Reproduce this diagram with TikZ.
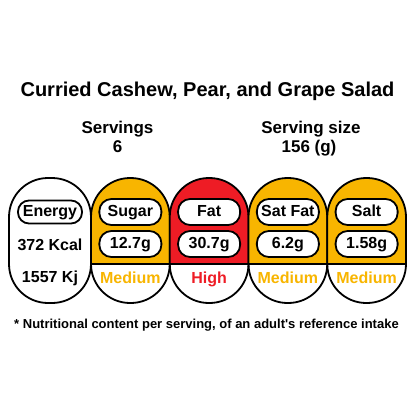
\documentclass[tikz,border=0pt]{standalone}
\usepackage{fontspec}
\setmainfont{Liberation Sans}
\usepackage{tikz}
\usetikzlibrary{positioning}
\definecolor{amber}{HTML}{F8B500}
\definecolor{highred}{HTML}{EE1C25}
\newcommand{\capfont}{\fontsize{16}{19}\selectfont\bfseries}
\newcommand{\headfont}{\fontsize{17}{20}\selectfont\bfseries}
\tikzset{%
	capsule/.style = {draw, line width=1.8pt, rounded corners=39pt, minimum width=78.75pt, minimum height=125pt, inner sep=0pt},
	filled/.style  = {capsule, path picture={
			\fill[#1, sharp corners] (path picture bounding box.north west) rectangle ([yshift=39pt]path picture bounding box.south east);
			\draw[line width=1.8pt, sharp corners] ([yshift=39pt]path picture bounding box.south west) -- ([yshift=39pt]path picture bounding box.south east);}},
	pill/.style    = {draw, fill=white, line width=1.8pt, rounded corners=12pt, minimum width=62pt, minimum height=26pt, inner sep=0pt, font=\capfont, text height=11.5pt, text depth=3.4pt},
	txt/.style     = {font=\capfont, anchor=base},
	head/.style    = {font=\headfont, anchor=base},
}

\begin{document}
\begin{tikzpicture}[x=1pt,y=-1pt]
	\useasboundingbox (0,0) rectangle (414,414);
	% title and serving info
	\node[font=\fontsize{20}{24}\selectfont\bfseries, anchor=base] (title) at (207.5,97) {Curried Cashew, Pear, and Grape Salad};
	\node[head] (servings) at (117.5,134) {Servings};
	\node[head] (servingsval) at (117.5,153) {6};
	\node[head] (size) at (311,134) {Serving size};
	\node[head] (sizeval) at (309,153) {156 (g)};
	% capsules
	\node[capsule, minimum width=82pt] (energy) at (50,240.5) {};
	\node[filled=amber] (sugar) at (130.375,240.5) {};
	\node[filled=highred] (fat) at (209.125,240.5) {};
	\node[filled=amber] (satfat) at (287.875,240.5) {};
	\node[filled=amber] (salt) at (366.625,240.5) {};
	% energy
	\node[pill, minimum width=64pt, minimum height=23pt, rounded corners=11pt] (energylbl) at (50,212) {Energy};
	\node[txt] (kcal) at (50,250) {372 Kcal};
	\node[txt] (kj) at (50,282) {1557 Kj};
	% sugar
	\node[pill] (sugarlbl) at (130.375,212) {Sugar};
	\node[pill] (sugarval) at (130.375,244) {12.7g};
	\node[txt, text=amber] (sugarlvl) at (130.375,283) {Medium};
	% fat
	\node[pill] (fatlbl) at (209.125,212) {Fat};
	\node[pill] (fatval) at (209.125,244) {30.7g};
	\node[txt, text=highred] (fatlvl) at (209.125,283) {High};
	% sat fat
	\node[pill] (satfatlbl) at (287.875,212) {Sat Fat};
	\node[pill] (satfatval) at (287.875,244) {6.2g};
	\node[txt, text=amber] (satfatlvl) at (287.875,283) {Medium};
	% salt
	\node[pill] (saltlbl) at (366.625,212) {Salt};
	\node[pill] (saltval) at (366.625,244) {1.58g};
	\node[txt, text=amber] (saltlvl) at (366.625,283) {Medium};
	% footnote
	\node[font=\fontsize{13}{15}\selectfont\bfseries, anchor=base] (note) at (206.5,328) {* Nutritional content per serving, of an adult\textquotesingle s reference intake};
\end{tikzpicture}
\end{document}
